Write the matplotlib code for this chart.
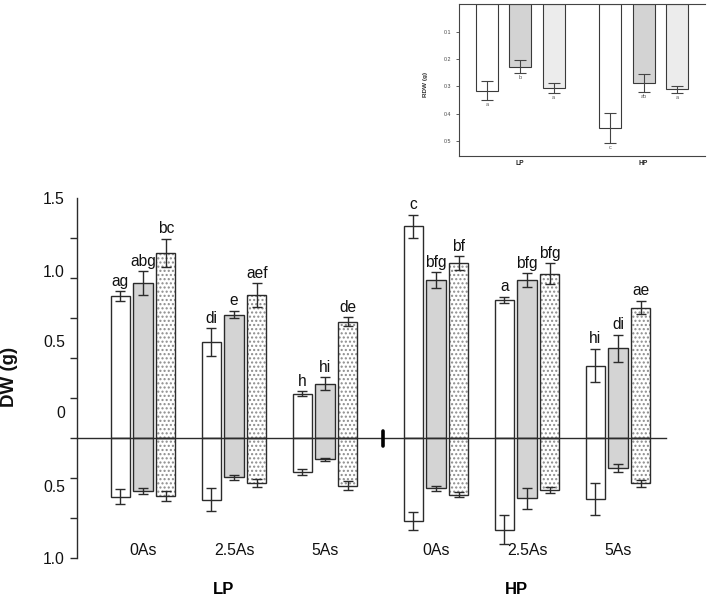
import numpy as np
import matplotlib
matplotlib.use("Agg")
import matplotlib.pyplot as plt

plt.rcParams['font.family'] = ['Liberation Sans', 'DejaVu Sans']

# ---------------- data ----------------
groups = ['0As', '2.5As', '5As']
phosphorus = ['LP', 'HP']

# shoot dry weight (above zero line)
lp_shoot_white = [0.888, 0.600, 0.279]
lp_shoot_gray = [0.969, 0.773, 0.340]
lp_shoot_dot = [1.160, 0.894, 0.727]
hp_shoot_white = [1.325, 0.863, 0.454]
hp_shoot_gray = [0.990, 0.990, 0.563]
hp_shoot_dot = [1.096, 1.029, 0.817]

lp_shoot_white_err = [0.030, 0.088, 0.014]
lp_shoot_gray_err = [0.076, 0.023, 0.040]
lp_shoot_dot_err = [0.088, 0.076, 0.028]
hp_shoot_white_err = [0.073, 0.020, 0.105]
hp_shoot_gray_err = [0.048, 0.042, 0.083]
hp_shoot_dot_err = [0.043, 0.066, 0.042]

# root dry weight (below zero line)
lp_root_white = [0.364, 0.383, 0.210]
lp_root_gray = [0.331, 0.244, 0.131]
lp_root_dot = [0.360, 0.279, 0.296]
hp_root_white = [0.519, 0.571, 0.379]
hp_root_gray = [0.313, 0.375, 0.185]
hp_root_dot = [0.352, 0.323, 0.281]

lp_root_white_err = [0.046, 0.070, 0.018]
lp_root_gray_err = [0.020, 0.015, 0.008]
lp_root_dot_err = [0.033, 0.024, 0.029]
hp_root_white_err = [0.057, 0.090, 0.100]
hp_root_gray_err = [0.015, 0.064, 0.023]
hp_root_dot_err = [0.016, 0.016, 0.023]

lp_letters_white = ['ag', 'di', 'h']
lp_letters_gray = ['abg', 'e', 'hi']
lp_letters_dot = ['bc', 'aef', 'de']
hp_letters_white = ['c', 'a', 'hi']
hp_letters_gray = ['bfg', 'bfg', 'di']
hp_letters_dot = ['bf', 'bfg', 'ae']

ytick_labels = ['1.5', '1.0', '0.5', '0', '0.5', '1.0']

# inset: root dry weight
inset_groups = ['LP', 'HP']
rdw_white = [0.316, 0.451]
rdw_gray = [0.228, 0.287]
rdw_dot = [0.307, 0.311]
rdw_white_err = [0.034, 0.055]
rdw_gray_err = [0.023, 0.033]
rdw_dot_err = [0.018, 0.013]
rdw_letters_white = ['a', 'c']
rdw_letters_gray = ['b', 'ab']
rdw_letters_dot = ['a', 'a']

# ---------------- figure ----------------
W, H = 709, 601
fig = plt.figure(figsize=(W / 100, H / 100), dpi=100)

EDGE = '#2b2b2b'
GRAY = '#d4d4d4'

ax = fig.add_axes([77.3 / W, 1 - 558.3 / H, (670 - 77.3) / W, 360 / H])
ax.set_xlim(-0.722, 5.791)
ax.set_ylim(-0.75, 1.5)

hp_off = 3.22
bw = 0.21
step = 0.25

series = [
    ('white', lp_shoot_white, hp_shoot_white, lp_shoot_white_err, hp_shoot_white_err,
     lp_root_white, hp_root_white, lp_root_white_err, hp_root_white_err,
     lp_letters_white, hp_letters_white),
    ('gray', lp_shoot_gray, hp_shoot_gray, lp_shoot_gray_err, hp_shoot_gray_err,
     lp_root_gray, hp_root_gray, lp_root_gray_err, hp_root_gray_err,
     lp_letters_gray, hp_letters_gray),
    ('dot', lp_shoot_dot, hp_shoot_dot, lp_shoot_dot_err, hp_shoot_dot_err,
     lp_root_dot, hp_root_dot, lp_root_dot_err, hp_root_dot_err,
     lp_letters_dot, hp_letters_dot),
]

centers_lp = np.arange(len(groups), dtype=float)
centers_hp = centers_lp + hp_off

for i, (kind, ls, hs, lse, hse, lr, hr, lre, hre, llet, hlet) in enumerate(series):
    for centers, shoot, se, root, re_, lets in [
        (centers_lp, ls, lse, lr, lre, llet),
        (centers_hp, hs, hse, hr, hre, hlet),
    ]:
        x = centers + (i - 1) * step
        shoot = np.array(shoot)
        root = -np.array(root)
        for vals in (shoot, root):
            if kind == 'white':
                ax.bar(x, vals, bw, color='white', edgecolor=EDGE, linewidth=1.0, zorder=2)
            elif kind == 'gray':
                ax.bar(x, vals, bw, color=GRAY, edgecolor=EDGE, linewidth=1.0, zorder=2)
            else:
                ax.bar(x, vals, bw, color='white', edgecolor='#8c8c8c', hatch='....',
                       linewidth=0, zorder=2)
                ax.bar(x, vals, bw, fill=False, edgecolor=EDGE, linewidth=1.0, zorder=2.1)
        ax.errorbar(x, shoot, yerr=se, fmt='none', ecolor=EDGE, elinewidth=1.0,
                    capsize=3.4, capthick=1.0, zorder=4)
        ax.errorbar(x, root, yerr=re_, fmt='none', ecolor=EDGE, elinewidth=1.0,
                    capsize=3.4, capthick=1.0, zorder=4)
        for xx, yy, ee, t in zip(x, shoot, se, lets):
            ax.annotate(t, (xx, yy + ee), xytext=(0, 4), textcoords='offset points',
                        ha='center', va='baseline', fontsize=11.2, color='#111111')

# zero line and break mark
ax.plot([-0.722, 5.75], [0, 0], color=EDGE, linewidth=1.0, zorder=5, clip_on=False)
ax.plot([2.637, 2.637], [-0.047, 0.047], color='black', linewidth=2.6,
        solid_capstyle='round', zorder=6)

# spines / ticks
for s in ['top', 'right', 'bottom']:
    ax.spines[s].set_visible(False)
ax.spines['left'].set_color(EDGE)
ax.spines['left'].set_linewidth(1.0)
ax.set_xticks([])
ax.set_yticks(np.arange(-0.75, 1.501, 0.25), minor=True)
label_pos = [1.5, 1.046, 0.61, 0.1625, -0.298, -0.746]
ax.set_yticks(label_pos)
ax.set_yticklabels(ytick_labels, fontsize=11.3, color='#111111')
ax.tick_params(axis='y', which='major', length=0, pad=8.9)
ax.tick_params(axis='y', which='minor', length=4.7, width=1.0, color=EDGE, direction='out')

# group labels
for c, g in zip(centers_lp, groups):
    ax.text(c, -0.704, g, ha='center', va='center', fontsize=11.4, color='#111111')
for c, g in zip(centers_hp, groups):
    ax.text(c, -0.704, g, ha='center', va='center', fontsize=11.4, color='#111111')
ax.text(0.88, -0.948, phosphorus[0], ha='center', va='center', fontsize=12,
        fontweight='bold', clip_on=False)
ax.text(0.88 + hp_off, -0.948, phosphorus[1], ha='center', va='center', fontsize=12,
        fontweight='bold', clip_on=False)

fig.text(10 / W, 1 - 377 / H, 'DW (g)', rotation=90, ha='center', va='center',
         fontsize=13.5, fontweight='bold', color='#111111')

# ---------------- inset ----------------
ax2 = fig.add_axes([459.3 / W, 1 - 155.5 / H, (705 - 459.3) / W, (155.5 - 4.3) / H])
ax2.set_xlim(-1.83, 5.546)
ax2.set_ylim(0.553, 0)
ic = np.array([0.0, 3.7])
ibw = 0.66
iEDGE = '#3a3a3a'
inset_series = [
    (rdw_white, rdw_white_err, rdw_letters_white, 'white'),
    (rdw_gray, rdw_gray_err, rdw_letters_gray, '#d3d3d3'),
    (rdw_dot, rdw_dot_err, rdw_letters_dot, '#ececec'),
]
for i, (vals, errs, lets, col) in enumerate(inset_series):
    x = ic + (i - 1)
    ax2.bar(x, vals, ibw, color=col, edgecolor=iEDGE, linewidth=0.8, zorder=2)
    ax2.errorbar(x, vals, yerr=errs, fmt='none', ecolor='#444444', elinewidth=0.8,
                 capsize=4.2, capthick=0.8, zorder=3)
    for xx, yy, ee, t in zip(x, vals, errs, lets):
        ax2.annotate(t, (xx, yy + ee), xytext=(0, -3.4), textcoords='offset points',
                     ha='center', va='center', fontsize=4.0, color='#555555')

ax2.spines['right'].set_visible(False)
for s in ['top', 'left', 'bottom']:
    ax2.spines[s].set_color('#444444')
    ax2.spines[s].set_linewidth(0.8)
ax2.set_yticks([0.1, 0.2, 0.3, 0.4, 0.5])
ax2.set_yticklabels(['0.1', '0.2', '0.3', '0.4', '0.5'], fontsize=3.8, color='#444444')
ax2.tick_params(axis='y', length=2, width=0.6, pad=4.0, color='#444444')
ax2.set_xticks(ic)
ax2.set_xticklabels(inset_groups, fontsize=4.8, fontweight='bold', color='#222222')
ax2.tick_params(axis='x', length=0, pad=3)
fig.text(426 / W, 1 - 84 / H, 'RDW (g)', rotation=90, ha='center', va='center',
         fontsize=4.6, fontweight='bold', color='#333333')

fig.savefig('out.png', dpi=100)
